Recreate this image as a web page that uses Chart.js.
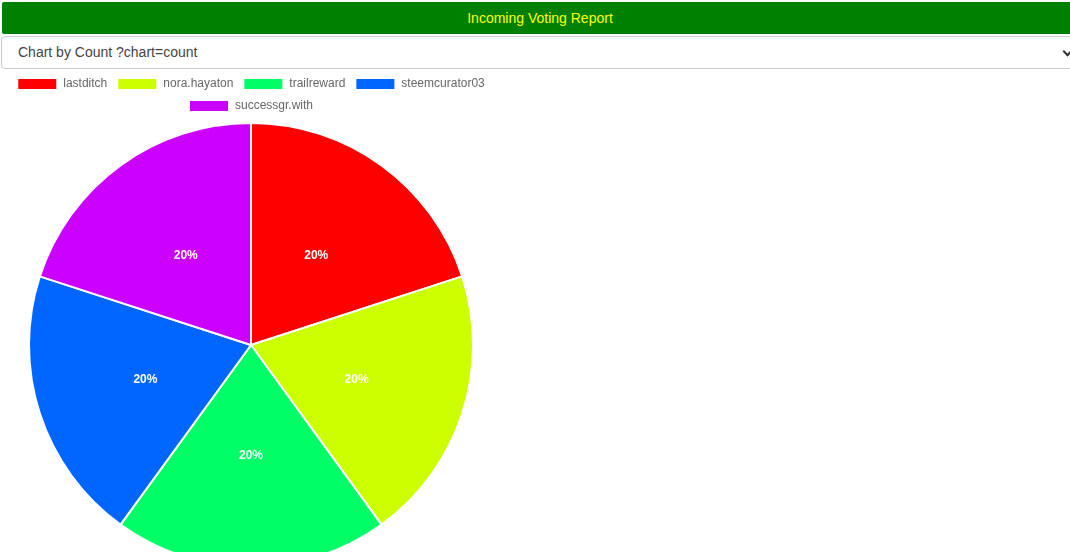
<!DOCTYPE html>
<html>
<head>
<meta charset="utf-8">
<title>Incoming Voting Report</title>
<script src="https://cdn.jsdelivr.net/npm/chart.js"></script>
<style>
    body {
        margin: 0;
        font-family: "Liberation Sans", Arial, sans-serif;
        background: #fff;
        overflow: hidden;
    }
    .header {
        position: absolute;
        left: 2px;
        top: 2px;
        width: 1076px;
        height: 32px;
        background: #008000;
        color: #ffff00;
        font-size: 14px;
        line-height: 32px;
        text-align: center;
        border-radius: 2px;
    }
    .picker {
        position: absolute;
        left: 1px;
        top: 36px;
        width: 1076px;
        height: 31px;
        border: 1px solid #ccc;
        border-radius: 4px;
        font-size: 14px;
        line-height: 31px;
        color: #444;
        box-sizing: content-box;
    }
    .picker span {
        margin-left: 16px;
    }
    .picker .arrow {
        position: absolute;
        left: 1062px;
        top: 11px;
        width: 5px;
        height: 5px;
        border-right: 2px solid #333;
        border-bottom: 2px solid #333;
        transform: rotate(45deg);
    }
    .chart-box {
        position: absolute;
        left: 1px;
        top: 68px;
        width: 500px;
        height: 500px;
    }
</style>
</head>
<body>
<div class="header">Incoming Voting Report</div>
<div class="picker"><span>Chart by Count ?chart=count</span><div class="arrow"></div></div>
<div class="chart-box"><canvas id="pieChart" width="500" height="500"></canvas></div>
<script>
// بيانات الرسم البياني
const voters = ['lastditch', 'nora.hayaton', 'trailreward', 'steemcurator03', 'successgr.with'];
const voteCounts = [1, 1, 1, 1, 1];
const sliceColors = ['#ff0000', '#ccff00', '#00ff66', '#0066ff', '#cc00ff'];

// كتابة النسب المئوية داخل الشرائح
const percentLabels = {
    id: 'percentLabels',
    afterDatasetsDraw(chart) {
        const ctx = chart.ctx;
        const meta = chart.getDatasetMeta(0);
        const total = voteCounts.reduce((a, b) => a + b, 0);
        ctx.save();
        ctx.fillStyle = '#fff';
        ctx.font = 'bold 12px "Liberation Sans", Arial, sans-serif';
        ctx.textAlign = 'center';
        ctx.textBaseline = 'middle';
        meta.data.forEach((arc, i) => {
            const pos = arc.tooltipPosition();
            const pct = Math.round(voteCounts[i] / total * 100) + '%';
            ctx.fillText(pct, pos.x, pos.y);
        });
        ctx.restore();
    }
};

new Chart(document.getElementById('pieChart').getContext('2d'), {
    type: 'pie',
    data: {
        labels: voters,
        datasets: [{
            data: voteCounts,
            backgroundColor: sliceColors,
            borderColor: '#fff',
            borderWidth: 2
        }]
    },
    options: {
        responsive: false,
        animation: false,
        plugins: {
            legend: {
                position: 'top',
                labels: {
                    color: '#666',
                    boxWidth: 40,
                    font: { size: 12, family: '"Liberation Sans", Arial, sans-serif' }
                }
            },
            tooltip: { enabled: false }
        }
    },
    plugins: [percentLabels]
});
</script>
</body>
</html>
